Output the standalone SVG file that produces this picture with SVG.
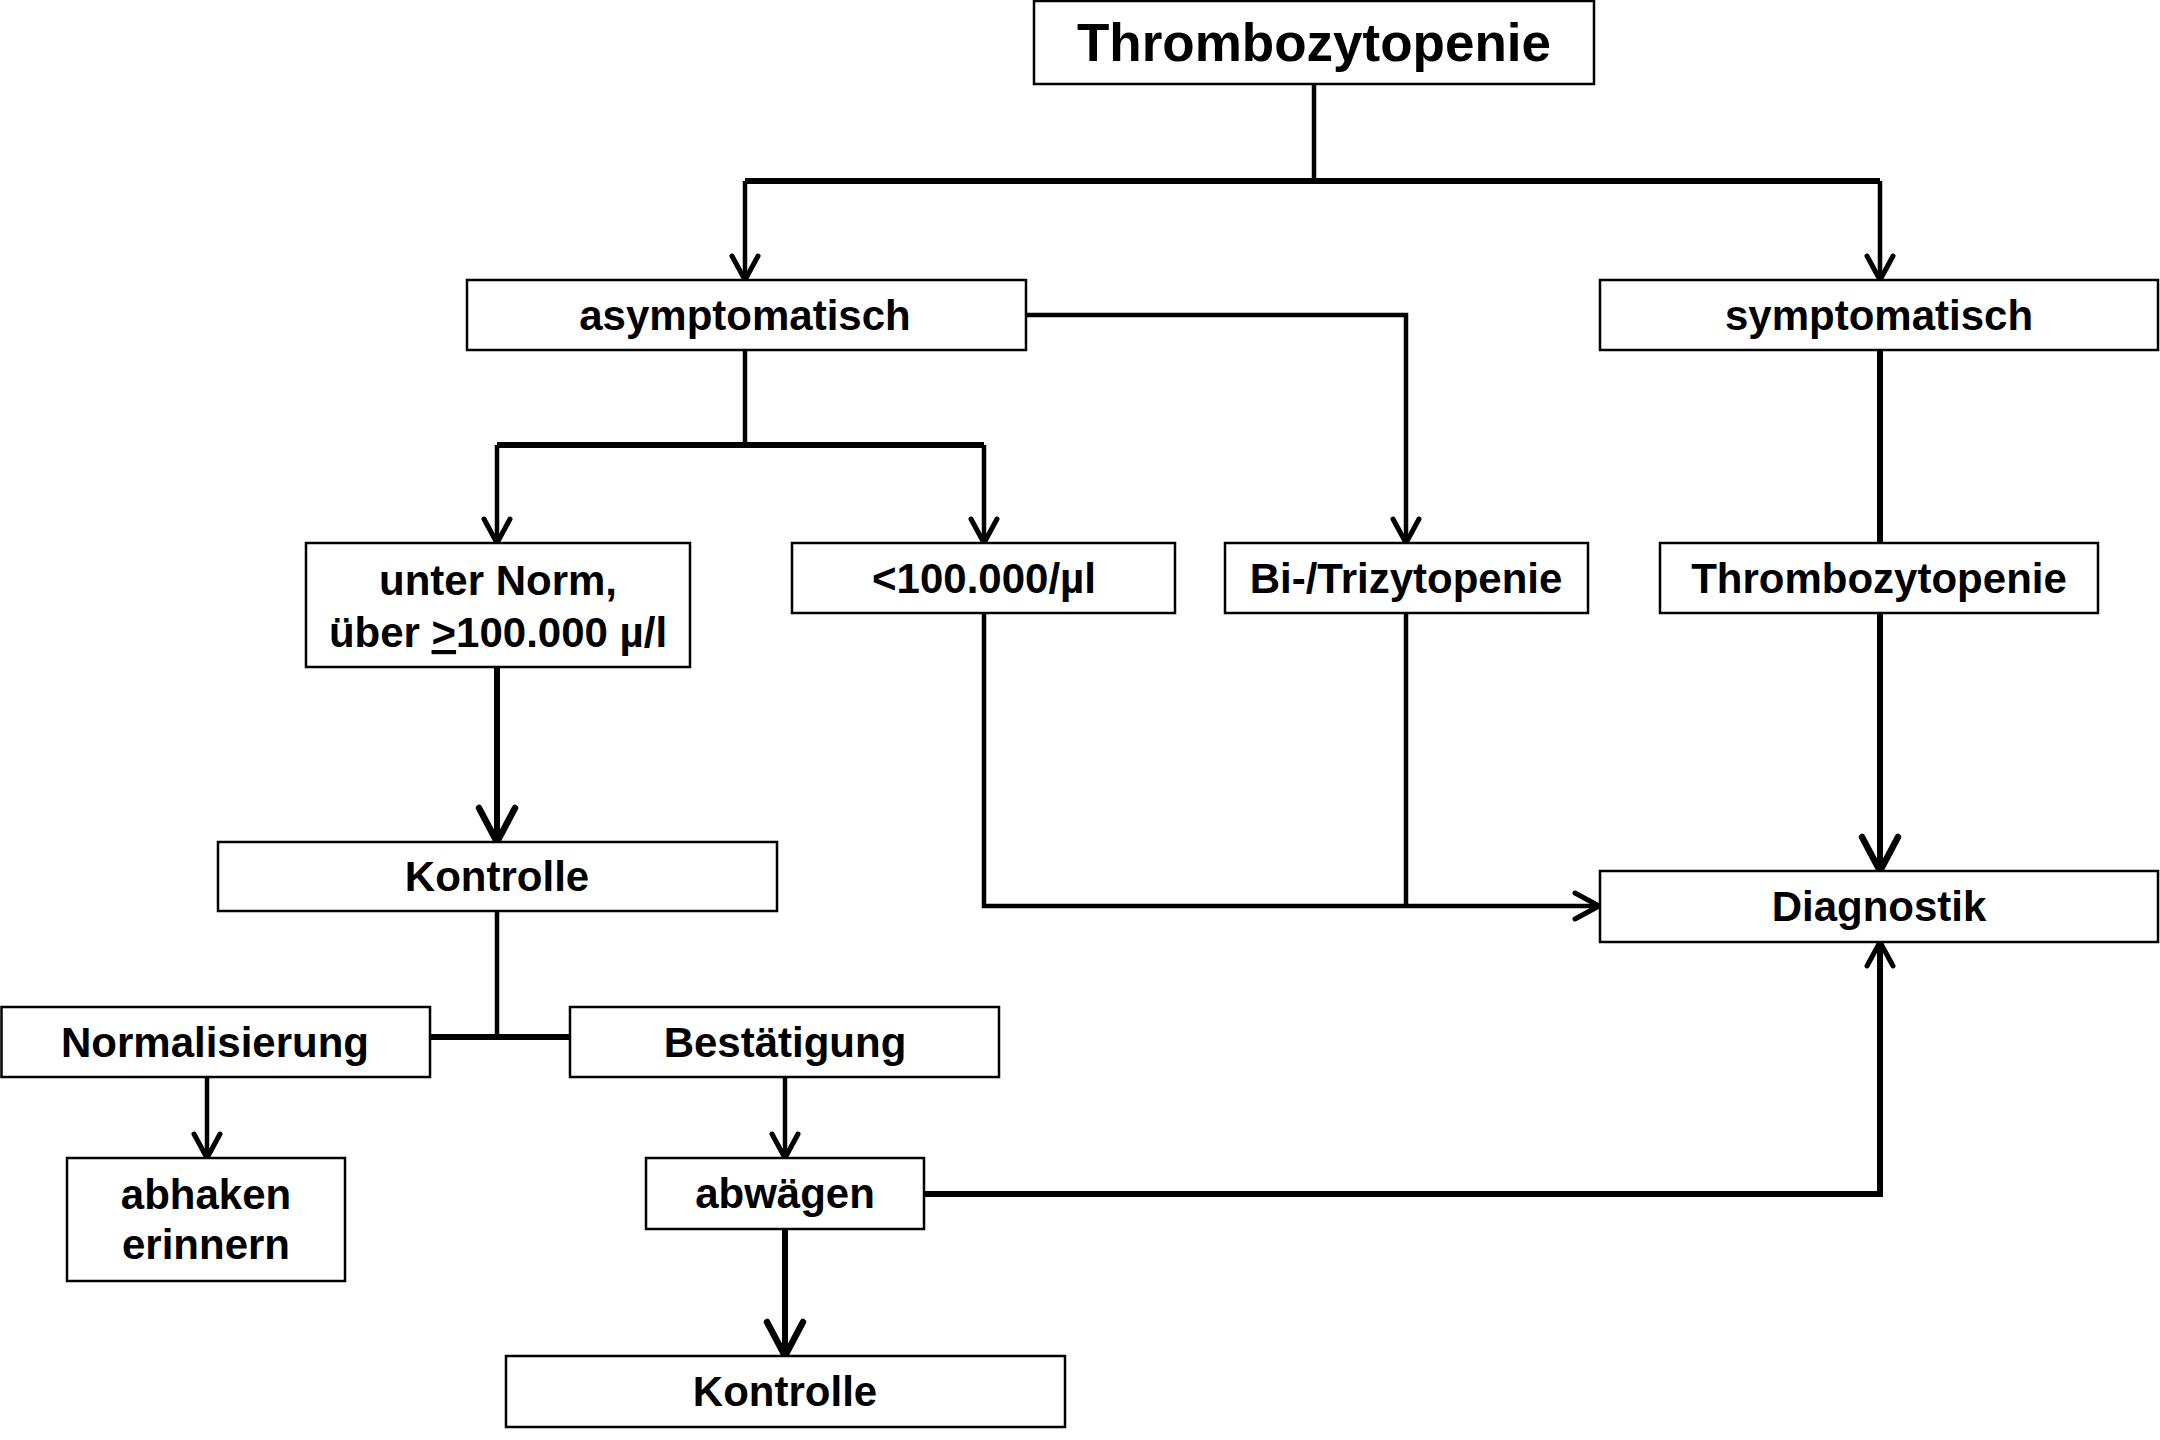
<svg xmlns="http://www.w3.org/2000/svg" width="2160" height="1440" viewBox="0 0 2160 1440">
<style>
.box{fill:#fff;stroke:#000;stroke-width:2.5}
.t{font-family:"Liberation Sans",Arial,sans-serif;font-weight:bold;font-size:42px;text-anchor:middle;fill:#000}
.big{font-size:53px}
.c{fill:none;stroke:#000;stroke-width:4.5}
.ck{fill:none;stroke:#000;stroke-width:6}
</style>
<defs>
<marker id="a" markerUnits="userSpaceOnUse" markerWidth="34" markerHeight="34" viewBox="0 0 34 34" refX="30" refY="17" orient="auto">
<path d="M6,4 L30,17 L6,30" fill="none" stroke="#000" stroke-width="5" stroke-linecap="round" stroke-linejoin="miter"/>
</marker>
<marker id="ab" markerUnits="userSpaceOnUse" markerWidth="44" markerHeight="44" viewBox="0 0 44 44" refX="40" refY="22" orient="auto">
<path d="M6,4 L40,22 L6,40" fill="none" stroke="#000" stroke-width="6.5" stroke-linecap="round" stroke-linejoin="miter"/>
</marker>
</defs>
<rect width="2160" height="1440" fill="#fff"/>
<g id="connectors">
<path class="c" d="M1314,84 V181"/>
<path class="ck" d="M745,181 H1880"/>
<path class="c" d="M745,181 V280" marker-end="url(#a)"/>
<path class="c" d="M1880,181 V280" marker-end="url(#a)"/>
<path class="c" d="M1026,315 H1406 V543" marker-end="url(#a)"/>
<path class="c" d="M745,350 V445"/>
<path class="ck" d="M497,445 H984"/>
<path class="c" d="M497,445 V543" marker-end="url(#a)"/>
<path class="c" d="M984,445 V543" marker-end="url(#a)"/>
<path class="ck" d="M1880,350 V543"/>
<path class="ck" d="M1880,613 V871" marker-end="url(#ab)"/>
<path class="c" d="M984,613 V906 H1599" marker-end="url(#a)"/>
<path class="c" d="M1406,613 V906"/>
<path class="ck" d="M497,667 V842" marker-end="url(#ab)"/>
<path class="c" d="M497,911 V1037"/>
<path class="ck" d="M430,1037 H570"/>
<path class="c" d="M207,1077 V1158" marker-end="url(#a)"/>
<path class="c" d="M785,1077 V1158" marker-end="url(#a)"/>
<path class="ck" d="M785,1229 V1356" marker-end="url(#ab)"/>
<path class="ck" d="M925,1194 H1880 V942" marker-end="url(#a)"/>
</g>
<g id="n-top"><rect class="box" x="1034" y="1" width="560" height="83"/><text class="t big" x="1314" y="61">Thrombozytopenie</text></g>
<g id="n-asym"><rect class="box" x="467" y="280" width="559" height="70"/><text class="t" x="745" y="330">asymptomatisch</text></g>
<g id="n-sym"><rect class="box" x="1600" y="280" width="558" height="70"/><text class="t" x="1879" y="330">symptomatisch</text></g>
<g id="n-unter"><rect class="box" x="306" y="543" width="384" height="124"/><text class="t" x="498" y="595">unter Norm,</text><text class="t" x="498" y="647">über <tspan text-decoration="underline">&gt;</tspan>100.000 µ/l</text></g>
<g id="n-lt100"><rect class="box" x="792" y="543" width="383" height="70"/><text class="t" x="984" y="593">&lt;100.000/µl</text></g>
<g id="n-bitri"><rect class="box" x="1225" y="543" width="363" height="70"/><text class="t" x="1406" y="593">Bi-/Trizytopenie</text></g>
<g id="n-thr2"><rect class="box" x="1660" y="543" width="438" height="70"/><text class="t" x="1879" y="593">Thrombozytopenie</text></g>
<g id="n-diag"><rect class="box" x="1600" y="871" width="558" height="71"/><text class="t" x="1879" y="921">Diagnostik</text></g>
<g id="n-kontrolle1"><rect class="box" x="218" y="842" width="559" height="69"/><text class="t" x="497" y="891">Kontrolle</text></g>
<g id="n-norm"><rect class="box" x="1.5" y="1007" width="428.5" height="70"/><text class="t" x="215" y="1057">Normalisierung</text></g>
<g id="n-best"><rect class="box" x="570" y="1007" width="429" height="70"/><text class="t" x="785" y="1057">Bestätigung</text></g>
<g id="n-abhaken"><rect class="box" x="67" y="1158" width="278" height="123"/><text class="t" x="206" y="1209">abhaken</text><text class="t" x="206" y="1259">erinnern</text></g>
<g id="n-abwaegen"><rect class="box" x="646" y="1158" width="278" height="71"/><text class="t" x="785" y="1208">abwägen</text></g>
<g id="n-kontrolle2"><rect class="box" x="506" y="1356" width="559" height="71"/><text class="t" x="785" y="1406">Kontrolle</text></g>
</svg>
